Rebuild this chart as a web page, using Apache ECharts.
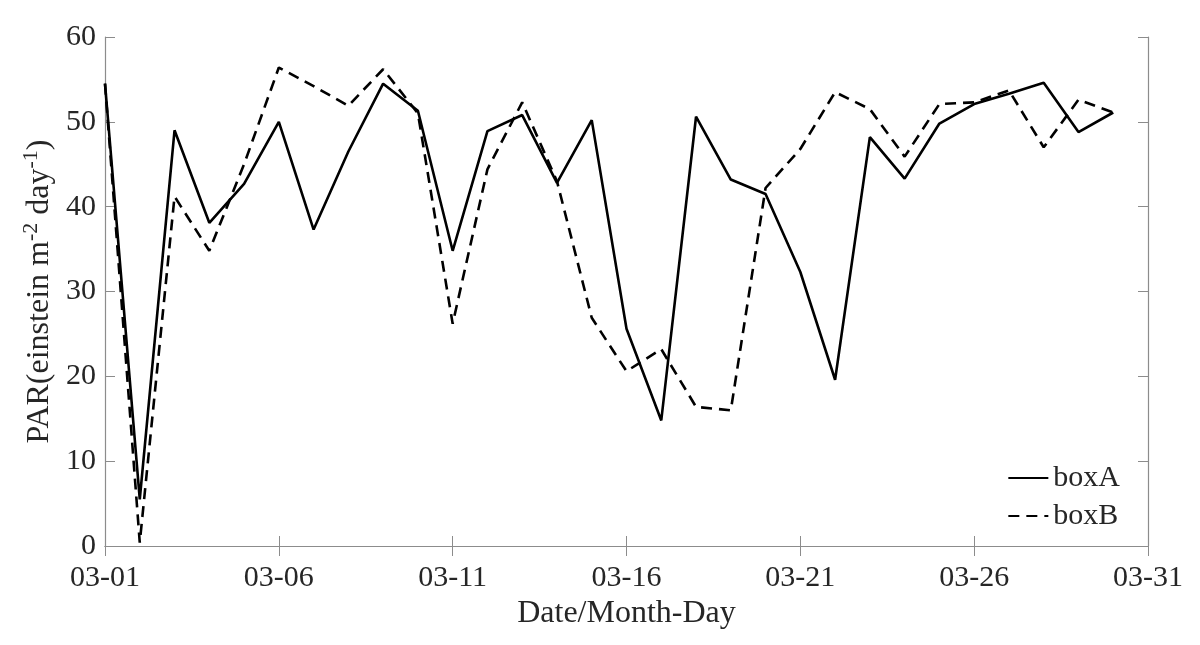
<!DOCTYPE html>
<html>
<head>
<meta charset="utf-8">
<script src="https://cdn.jsdelivr.net/npm/echarts@6/dist/echarts.min.js"></script>
<style>
  html, body { margin: 0; padding: 0; background: #fff; }
  #main { width: 1200px; height: 645px; }
</style>
</head>
<body>
<div id="main"></div>
<script>
// data, one value per day (03-01 .. 03-30)
var days = [];
for (var d = 1; d <= 31; d++) {
    days.push('03-' + (d < 10 ? '0' + d : d));
}
var boxA = [54.5, 5.5, 49.0, 38.1, 42.7, 50.0, 37.3, 46.5, 54.5, 51.3,
            34.8, 48.9, 50.8, 42.8, 50.2, 25.6, 14.8, 50.6, 43.2, 41.5,
            32.3, 19.6, 48.2, 43.3, 49.8, 52.1, 53.3, 54.6, 48.8, 51.1];
var boxB = [54.5, 0.4, 41.2, 34.8, 45.0, 56.4, 54.2, 51.9, 56.2, 51.0,
            26.2, 44.4, 52.3, 43.0, 26.9, 20.6, 23.2, 16.4, 16.0, 42.2,
            46.8, 53.5, 51.5, 45.9, 52.1, 52.3, 53.7, 47.0, 52.6, 51.1];

var serif = 'Liberation Serif';
var axisGray = '#8c8c8c';
var textColor = '#262626';

var myChart = echarts.init(document.getElementById('main'));

var option = {
    backgroundColor: '#fff',
    animation: false,
    textStyle: { fontFamily: serif },
    grid: { left: 105, right: 52, top: 37, bottom: 99 },
    legend: {
        orient: 'vertical',
        right: 75,
        top: 458,
        itemWidth: 40,
        itemHeight: 14,
        itemGap: 8,
        itemStyle: { color: 'rgba(0,0,0,0)', borderColor: 'rgba(0,0,0,0)', borderWidth: 0 },
        textStyle: { fontFamily: serif, fontSize: 30, color: textColor },
        data: ['boxA', 'boxB']
    },
    xAxis: [{
        type: 'category',
        data: days,
        boundaryGap: false,
        name: 'Date/Month-Day',
        nameLocation: 'middle',
        nameGap: 52,
        nameTextStyle: { fontFamily: serif, fontSize: 32, color: textColor },
        axisLine: { lineStyle: { color: axisGray, width: 1.2 } },
        axisTick: { inside: true, length: 10, interval: 4, alignWithLabel: true, lineStyle: { color: axisGray } },
        axisLabel: { interval: 4, margin: 17, fontFamily: serif, fontSize: 30, color: textColor },
        splitLine: { show: false }
    }, {
        type: 'category',
        data: days,
        boundaryGap: false,
        position: 'top',
        axisLine: { lineStyle: { color: axisGray, width: 1.2 } },
        axisTick: { inside: true, length: 10, interval: 4, lineStyle: { color: axisGray } },
        axisLabel: { show: false },
        splitLine: { show: false }
    }],
    yAxis: [{
        type: 'value',
        min: 0,
        max: 60,
        interval: 10,
        name: 'PAR(einstein m{sup|-2} day{sup|-1})',
        nameLocation: 'middle',
        nameGap: 40,
        nameTextStyle: {
            fontFamily: serif, fontSize: 32, color: textColor,
            rich: {
                sup: { fontFamily: serif, fontSize: 22, color: textColor, verticalAlign: 'top', padding: [0, 0, 16, 0] }
            }
        },
        axisLine: { show: true, lineStyle: { color: axisGray, width: 1.2 } },
        axisTick: { show: true, inside: true, length: 10, lineStyle: { color: axisGray } },
        axisLabel: { margin: 9, fontFamily: serif, fontSize: 30, color: textColor },
        splitLine: { show: false }
    }, {
        type: 'value',
        min: 0,
        max: 60,
        interval: 10,
        position: 'right',
        axisLine: { show: true, lineStyle: { color: axisGray, width: 1.2 } },
        axisTick: { show: true, inside: true, length: 10, lineStyle: { color: axisGray } },
        axisLabel: { show: false },
        splitLine: { show: false }
    }],
    series: [{
        name: 'boxA',
        type: 'line',
        data: boxA,
        symbol: 'none',
        lineStyle: { color: '#000', width: 2.6, type: 'solid' },
        itemStyle: { color: '#000' }
    }, {
        name: 'boxB',
        type: 'line',
        data: boxB,
        symbol: 'none',
        lineStyle: { color: '#000', width: 2.6, type: [11, 7] },
        itemStyle: { color: '#000' }
    }]
};

myChart.setOption(option);
</script>
</body>
</html>
